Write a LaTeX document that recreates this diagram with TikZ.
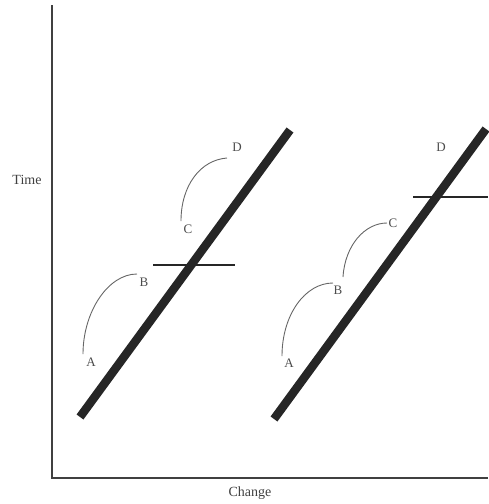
\documentclass[tikz,border=0pt]{standalone}
\usepackage{fontspec}
\setmainfont{Liberation Serif}
\begin{document}
\begin{tikzpicture}[x=1pt,y=-1pt,
  axis/.style={draw=black!75,line width=1.2pt},
  change/.style={draw=black!85,line width=8.5pt,line cap=butt},
  bar/.style={draw=black!85,line width=2.8pt},
  arc/.style={draw=black!60,line width=0.9pt},
  lab/.style={text=black!70,font=\fontsize{13}{13}\selectfont,inner sep=0pt},
  axlab/.style={text=black!75,font=\fontsize{14}{14}\selectfont,inner sep=0pt}]
\useasboundingbox (0,0) rectangle (488,504);
% axes
\coordinate (top) at (52,5);
\coordinate (origin) at (52,478);
\coordinate (right) at (488,478);
\draw[axis] (top) -- (origin) -- (right);
\node[axlab] (time) at (27,180) {Time};
\node[axlab] (change) at (250,493) {Change};
% left panel
\coordinate (l1) at (80,417);
\coordinate (l2) at (290,130);
\draw[change] (l1) -- (l2);
\coordinate (lb1) at (153,265);
\coordinate (lb2) at (235,265);
\draw[bar] (lb1) -- (lb2);
\node[lab] (lA) at (91,362) {A};
\node[lab] (lB) at (144,282) {B};
\node[lab] (lC) at (188,229) {C};
\node[lab] (lD) at (237,147) {D};
\coordinate (la1) at (83,354);
\coordinate (la2) at (137,274);
\draw[arc] (la1) .. controls (83,312) and (108,274) .. (la2);
\coordinate (lc1) at (181,221);
\coordinate (lc2) at (227,158);
\draw[arc] (lc1) .. controls (181,186) and (200,160) .. (lc2);
% right panel
\coordinate (r1) at (274,419);
\coordinate (r2) at (486,129);
\draw[change] (r1) -- (r2);
\coordinate (rb1) at (413,197);
\coordinate (rb2) at (488,197);
\draw[bar] (rb1) -- (rb2);
\node[lab] (rA) at (289,363) {A};
\node[lab] (rB) at (338,290) {B};
\node[lab] (rC) at (393,223) {C};
\node[lab] (rD) at (441,147) {D};
\coordinate (ra1) at (282,356);
\coordinate (ra2) at (333,283);
\draw[arc] (ra1) .. controls (282,315) and (305,283) .. (ra2);
\coordinate (rc1) at (343,277);
\coordinate (rc2) at (387,223);
\draw[arc] (rc1) .. controls (345,245) and (365,223) .. (rc2);
\end{tikzpicture}
\end{document}
